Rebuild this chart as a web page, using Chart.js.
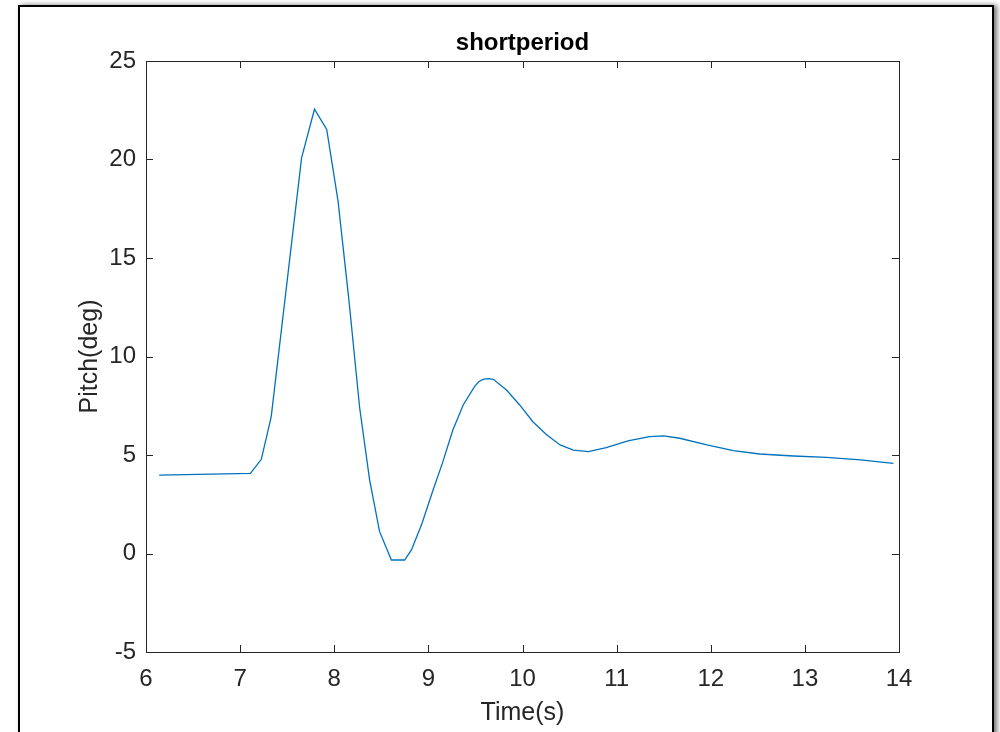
<!DOCTYPE html>
<html>
<head>
<meta charset="utf-8">
<script src="https://cdn.jsdelivr.net/npm/chart.js@4.4.1/dist/chart.umd.min.js"></script>
<style>
  html, body { margin: 0; padding: 0; background: #fff; width: 1000px; height: 732px; overflow: hidden; }
  #frame { position: absolute; left: 18px; top: 5px; width: 972px; height: 780px; border: 2px solid #000; box-shadow: 3px 0 5px rgba(0,0,0,0.55); background: #fff; }
  #wrap { position: absolute; left: 0; top: 0; width: 1000px; height: 732px; }
</style>
</head>
<body>
<div id="frame"></div>
<div id="wrap"><canvas id="c" width="1000" height="732"></canvas></div>
<script>
// Data
const timeS = [6.14, 7.11, 7.225, 7.33, 7.653, 7.79, 7.92, 8.04, 8.155, 8.27, 8.376, 8.482, 8.607, 8.748, 8.82, 8.93, 9.05, 9.15, 9.26, 9.37, 9.49, 9.535, 9.58, 9.635, 9.69, 9.83, 9.97, 10.11, 10.25, 10.40, 10.54, 10.70, 10.89, 11.12, 11.35, 11.50, 11.67, 11.96, 12.24, 12.52, 12.88, 13.23, 13.59, 13.94];
const pitchDeg = [3.98, 4.07, 4.78, 6.94, 20.08, 22.55, 21.53, 17.9, 12.9, 7.4, 3.73, 1.11, -0.33, -0.33, 0.18, 1.5, 3.22, 4.6, 6.27, 7.54, 8.47, 8.72, 8.84, 8.88, 8.84, 8.3, 7.54, 6.69, 6.05, 5.51, 5.25, 5.17, 5.38, 5.72, 5.93, 5.97, 5.85, 5.51, 5.22, 5.05, 4.95, 4.88, 4.75, 4.58];
const xTicks = [6, 7, 8, 9, 10, 11, 12, 13, 14];
const yTicks = [-5, 0, 5, 10, 15, 20, 25];
const titleText = 'shortperiod';
const xLabel = 'Time(s)';
const yLabel = 'Pitch(deg)';

const points = timeS.map((t, i) => ({ x: t, y: pitchDeg[i] }));
const FONT = "'Liberation Sans', Arial, Helvetica, sans-serif";
const AX = '#262626';

const innerTicks = {
  id: 'innerTicks',
  afterDraw(chart) {
    const { ctx, chartArea: a, scales } = chart;
    const L = 7;
    ctx.save();
    ctx.strokeStyle = AX;
    ctx.lineWidth = 1;
    ctx.beginPath();
    scales.x.ticks.forEach(t => {
      const px = Math.round(scales.x.getPixelForValue(t.value)) + 0.5;
      ctx.moveTo(px, a.bottom); ctx.lineTo(px, a.bottom - L);
      ctx.moveTo(px, a.top); ctx.lineTo(px, a.top + L);
    });
    scales.y.ticks.forEach(t => {
      const py = Math.round(scales.y.getPixelForValue(t.value)) + 0.5;
      ctx.moveTo(a.left, py); ctx.lineTo(a.left + L, py);
      ctx.moveTo(a.right, py); ctx.lineTo(a.right - L, py);
    });
    ctx.stroke();
    ctx.restore();
  }
};

new Chart(document.getElementById('c'), {
  type: 'scatter',
  data: {
    datasets: [{
      data: points,
      showLine: true,
      borderColor: '#0072BD',
      borderWidth: 1.3,
      pointRadius: 0,
      pointHoverRadius: 0,
      tension: 0,
      fill: false
    }]
  },
  options: {
    responsive: false,
    animation: false,
    layout: { padding: 0 },
    plugins: { legend: { display: false }, tooltip: { enabled: false }, title: { display: false } },
    scales: {
      x: {
        type: 'linear', position: 'bottom', min: 6, max: 14,
        afterBuildTicks: s => { s.ticks = xTicks.map(v => ({ value: v })); },
        afterFit: s => { s.height = 80; },
        grid: { display: false, drawTicks: false },
        border: { display: true, color: AX, width: 1 },
        ticks: { color: AX, font: { family: FONT, size: 24 }, padding: 13, maxRotation: 0, autoSkip: false },
        title: { display: true, text: xLabel, color: AX, font: { family: FONT, size: 25 }, padding: { top: 0, bottom: 4 } }
      },
      x2: {
        type: 'linear', position: 'top', min: 6, max: 14,
        afterFit: s => { s.height = 61; },
        grid: { display: false, drawTicks: false },
        border: { display: true, color: AX, width: 1 },
        ticks: { display: false },
        title: { display: true, text: titleText, color: '#000', font: { family: FONT, size: 24, weight: 'bold' }, padding: { top: 29, bottom: 0 } }
      },
      y: {
        type: 'linear', position: 'left', min: -5, max: 25,
        afterBuildTicks: s => { s.ticks = yTicks.map(v => ({ value: v })); },
        afterFit: s => { s.width = 146; },
        grid: { display: false, drawTicks: false },
        border: { display: true, color: AX, width: 1 },
        ticks: { color: AX, font: { family: FONT, size: 24 }, padding: 10, autoSkip: false },
        title: { display: true, text: yLabel, color: AX, font: { family: FONT, size: 25 }, padding: { top: 75, bottom: 0 } }
      },
      y2: {
        type: 'linear', position: 'right', min: -5, max: 25,
        afterFit: s => { s.width = 101; },
        grid: { display: false, drawTicks: false },
        border: { display: true, color: AX, width: 1 },
        ticks: { display: false }
      }
    }
  },
  plugins: [innerTicks]
});
</script>
</body>
</html>
